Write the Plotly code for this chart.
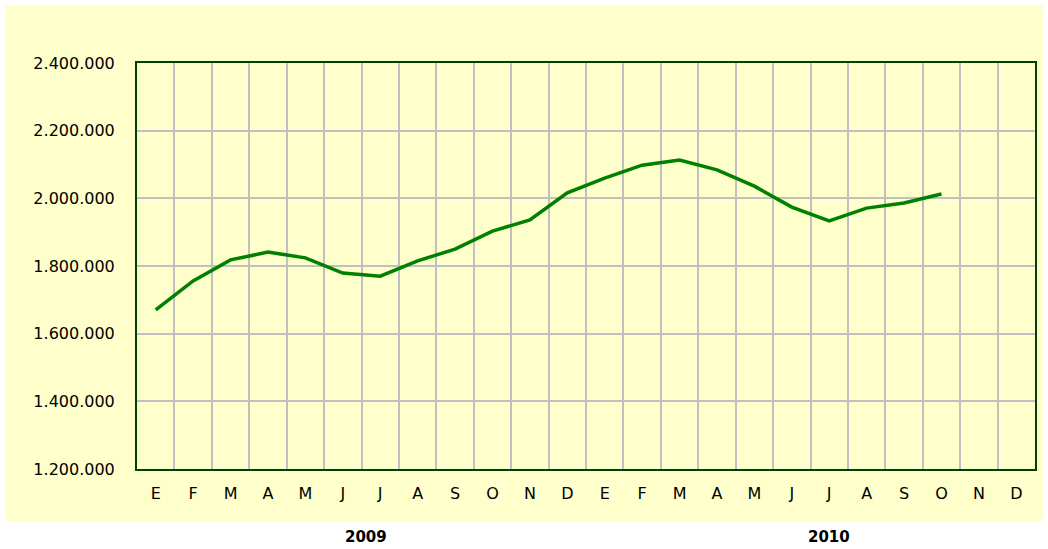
import plotly.graph_objects as go

months = ["E", "F", "M", "A", "M", "J", "J", "A", "S", "O", "N", "D",
          "E", "F", "M", "A", "M", "J", "J", "A", "S", "O", "N", "D"]
values = [1670000, 1756000, 1818000, 1841000, 1824000, 1779000, 1770000, 1815000,
          1850000, 1903000, 1936000, 2016000, 2060000, 2098000, 2113000, 2084000,
          2036000, 1974000, 1933000, 1971000, 1986000, 2013000]
years = ["2009", "2010"]
year_pos = [6.13, 18.5]
y_ticks = [1200000, 1400000, 1600000, 1800000, 2000000, 2200000, 2400000]
y_tick_text = ["1.200.000", "1.400.000", "1.600.000", "1.800.000", "2.000.000", "2.200.000", "2.400.000"]

x_centers = [i + 0.5 for i in range(len(months))]
x_vals = x_centers[:len(values)]

YELLOW = "#FFFFCC"
FONT = "DejaVu Sans"

fig = go.Figure()
fig.add_trace(go.Scatter(x=x_vals, y=values, mode="lines",
                         line=dict(color="#008000", width=3.5), hoverinfo="skip"))

fig.update_layout(
    width=1048, height=549,
    margin=dict(l=137, r=11, t=63, b=80),
    paper_bgcolor="white",
    plot_bgcolor=YELLOW,
    showlegend=False,
    font=dict(family=FONT, size=16, color="#000000"),
    xaxis=dict(
        range=[0, len(months)],
        tickvals=x_centers, ticktext=months,
        showgrid=False, ticks="", ticklabelstandoff=9,
        showline=True, linecolor="#004000", linewidth=2, mirror=True,
        zeroline=False, fixedrange=True,
        minor=dict(tickvals=list(range(1, len(months))), showgrid=True,
                   gridcolor="#C0C0C0", gridwidth=2, ticks=""),
    ),
    yaxis=dict(
        range=[1200000, 2400000],
        tickvals=y_ticks, ticktext=y_tick_text,
        showgrid=True, gridcolor="#C0C0C0", gridwidth=2,
        ticks="", ticklabelstandoff=17,
        showline=True, linecolor="#004000", linewidth=2, mirror=True,
        zeroline=False, fixedrange=True,
    ),
)

# yellow panel behind the chart
fig.add_shape(type="rect", xref="paper", yref="paper",
              x0=(5 - 137) / 900, x1=(1045 - 137) / 900,
              y0=(469 - 521) / 406, y1=(469 - 5) / 406,
              fillcolor=YELLOW, line=dict(width=0), layer="below")

for yr, xp in zip(years, year_pos):
    fig.add_annotation(x=xp, xref="x", y=(469 - 537) / 406, yref="paper",
                       text="<b>" + yr + "</b>", showarrow=False,
                       font=dict(family=FONT, size=15, color="#000000"),
                       xanchor="center", yanchor="middle")

fig.write_html("out.html", config={"displayModeBar": False},
               post_script="document.body.style.margin='0';document.body.style.overflow='hidden';")
